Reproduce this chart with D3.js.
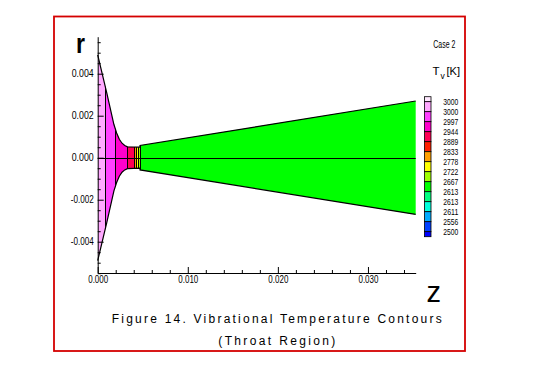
<!DOCTYPE html>
<html><head><meta charset="utf-8">
<script src="https://cdn.jsdelivr.net/npm/d3@7"></script>
<style>body{margin:0;background:#fff}svg{display:block}text{font-family:"Liberation Sans",Arial,sans-serif}</style>
</head><body><svg id="c" width="559" height="366"></svg>
<script>
// ---- data ----
const wallZ = [0, 0.0010, 0.0018, 0.0021, 0.0024, 0.0027, 0.0030, 0.0033, 0.0047, 0.0047, 0.0353];
const wallR = [0.0049, 0.0031, 0.00158, 0.00118, 0.00088, 0.00069, 0.00058, 0.00052, 0.00050, 0.00058, 0.0027];
const bandStart = [0, 0.0008, 0.0019, 0.0032, 0.0040, 0.00425, 0.0045, 0.0047];
const bandEnd   = [0.0008, 0.0019, 0.0032, 0.0040, 0.00425, 0.0045, 0.0047, 0.0353];
const bandColor = ["#ffa8ff", "#ff40ff", "#ff00cc", "#ff0055", "#ffa000", "#ffff00", "#a0ff00", "#00ff00"];
const legendLabels = ["3000","3000","2997","2944","2889","2833","2778","2722","2667","2613","2613","2611","2556","2500"];
const legendColors = ["#ffe8ff","#ffa8ff","#ff40ff","#ff00cc","#ff0055","#ff2000","#ffa000","#ffff00","#a0ff00","#00ff00","#00ff80","#00ffdd","#00aaff","#0040ff","#0000ff"];
const xMajor = [0, 0.01, 0.02, 0.03];
const yMajor = [-0.004, -0.002, 0, 0.002, 0.004];

// ---- scales ----
const svg = d3.select("#c");
const x = d3.scaleLinear().domain([0, 0.0353]).range([97.7, 415.7]);
const y = d3.scaleLinear().domain([-0.00549, 0.005762]).range([273, 36.7]);

// frame
svg.append("rect").attr("x",54).attr("y",16.5).attr("width",411).attr("height",334.5)
  .attr("fill","none").attr("stroke","#d40000").attr("stroke-width",1.8);

// nozzle shape
const upper = wallZ.map((z,i)=>[x(z), y(wallR[i])]);
const lower = wallZ.map((z,i)=>[x(z), y(-wallR[i])]);
const outline = upper.concat(lower.slice().reverse());
const defs = svg.append("defs");
defs.append("clipPath").attr("id","noz").append("path")
  .attr("d", d3.line()(outline) + "Z");

const g = svg.append("g").attr("clip-path","url(#noz)");
g.selectAll("rect.band").data(bandStart).join("rect").attr("class","band")
  .attr("x", d=>x(d)).attr("width",(d,i)=>x(bandEnd[i])-x(d))
  .attr("y", y(0.006)).attr("height", y(-0.006)-y(0.006))
  .attr("fill",(d,i)=>bandColor[i]).attr("shape-rendering","crispEdges");
g.selectAll("line.bnd").data(bandStart.slice(1)).join("line").attr("class","bnd")
  .attr("x1",d=>Math.round(x(d))+0.5).attr("x2",d=>Math.round(x(d))+0.5)
  .attr("y1",y(0.006)).attr("y2",y(-0.006)).attr("stroke","#000").attr("stroke-width",1);

// walls
const wl = d3.line();
svg.append("path").attr("d", wl(upper)).attr("fill","none").attr("stroke","#000").attr("stroke-width",1.2);
svg.append("path").attr("d", wl(lower)).attr("fill","none").attr("stroke","#000").attr("stroke-width",1.2);
// centerline
svg.append("line").attr("x1",x(0)).attr("x2",x(0.0353)).attr("y1",Math.round(y(0))+0.5).attr("y2",Math.round(y(0))+0.5)
  .attr("stroke","#000").attr("stroke-width",1.2);

// axes
const fmt = d => (d<0?"-":"") + Math.abs(d).toFixed(3);
const xa = svg.append("g").attr("transform",`translate(0,${y.range()[0]})`)
  .call(d3.axisBottom(x).tickValues(xMajor).tickSizeInner(-6).tickSizeOuter(0).tickPadding(3).tickFormat(fmt));
svg.append("g").attr("transform",`translate(0,${y.range()[0]})`)
  .call(d3.axisBottom(x).tickValues(d3.range(0.002,0.0353,0.002).filter(v=>Math.abs(v*100-Math.round(v*100))>1e-6)).tickSize(-3).tickFormat(""))
  .select(".domain").remove();
const ya = svg.append("g").attr("transform",`translate(${x(0)},0)`)
  .call(d3.axisLeft(y).tickValues(yMajor).tickSizeInner(-6).tickSizeOuter(0).tickPadding(4).tickFormat(fmt));
svg.append("g").attr("transform",`translate(${x(0)},0)`)
  .call(d3.axisLeft(y).tickValues(d3.range(-0.0055,0.0058,0.0005).filter(v=>Math.abs(v*500-Math.round(v*500))>1e-6)).tickSize(-3).tickFormat(""))
  .select(".domain").remove();
svg.selectAll(".tick line, .domain").attr("stroke","#000");
xa.selectAll("text").attr("font-size",10).attr("textLength",20).attr("lengthAdjust","spacingAndGlyphs").attr("fill","#000");
ya.selectAll("text").attr("font-size",10).attr("textLength",d=>d<0?23:22).attr("lengthAdjust","spacingAndGlyphs").attr("fill","#000");

// axis titles
svg.append("text").attr("x",76).attr("y",52.5).attr("font-size",27).attr("font-weight","bold")
  .attr("textLength",9).attr("lengthAdjust","spacingAndGlyphs").text("r");
svg.append("text").attr("x",426.5).attr("y",302).attr("font-size",29).text("z");

// case / legend title
svg.append("text").attr("x",433.3).attr("y",48.3).attr("font-size",10)
  .attr("textLength",22).attr("lengthAdjust","spacingAndGlyphs").text("Case 2");
svg.append("text").attr("x",432.5).attr("y",75).attr("font-size",11.5).text("T");
svg.append("text").attr("x",440.5).attr("y",79).attr("font-size",8.5).text("v");
svg.append("text").attr("x",446.5).attr("y",75).attr("font-size",11.5)
  .attr("textLength",13.5).attr("lengthAdjust","spacingAndGlyphs").text("[K]");

// legend
const ly = d3.scaleLinear().domain([0, legendLabels.length-1]).range([101.7, 231.7]);
const step = ly(1)-ly(0);
const edges = [ly(0)-step/2].concat(d3.range(legendLabels.length).map(i=>ly(i)), [ly(legendLabels.length-1)+step/2]);
svg.append("g").selectAll("rect").data(legendColors).join("rect")
  .attr("x",424.5).attr("width",6.5)
  .attr("y",(d,i)=>edges[i]).attr("height",(d,i)=>edges[i+1]-edges[i])
  .attr("fill",d=>d).attr("stroke","#000").attr("stroke-width",0.8);
svg.append("g").selectAll("text").data(legendLabels).join("text")
  .attr("x",443.3).attr("y",(d,i)=>ly(i)).attr("dy","0.35em").attr("font-size",9)
  .attr("textLength",15).attr("lengthAdjust","spacingAndGlyphs").text(d=>d);

// caption
svg.append("text").attr("x",111.7).attr("y",323.3).attr("font-size",12)
  .attr("textLength",330).attr("lengthAdjust","spacing").text("Figure 14. Vibrational Temperature Contours");
svg.append("text").attr("x",218.3).attr("y",345).attr("font-size",12)
  .attr("textLength",117).attr("lengthAdjust","spacing").text("(Throat Region)");
</script></body></html>
